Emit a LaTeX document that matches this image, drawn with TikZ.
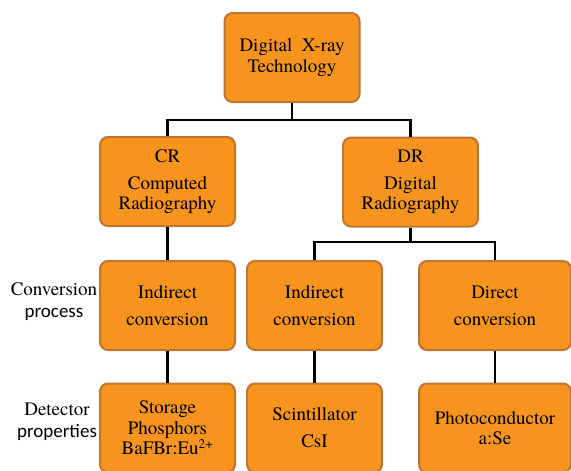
\documentclass[tikz,border=0pt]{standalone}
\usepackage{fontspec}
\setmainfont{texgyretermes}[Extension=.otf, UprightFont=*-regular, BoldFont=*-bold]
\newfontfamily\boxserif{texgyretermes}[Extension=.otf, UprightFont=*-regular]
\newfontfamily\labelsans{Carlito}
\definecolor{boxfill}{RGB}{247,148,30}
\definecolor{boxedge}{RGB}{190,117,50}
\tikzset{
  box/.style={draw=boxedge, fill=boxfill, line width=2pt, rounded corners=8pt,
    minimum width=135pt, minimum height=89pt, inner sep=0pt, align=center,
    font=\boxserif\fontsize{19}{20.5}\selectfont},
  wide/.style={minimum width=152pt},
  link/.style={draw=black, line width=2.6pt},
  sidelabel/.style={align=center, inner sep=0pt, font=\boxserif\fontsize{19}{22}\selectfont}
}
\begin{document}
\begin{tikzpicture}[x=1pt, y=-1pt]
  \useasboundingbox (0,0) rectangle (571,471);
  \clip (0,0) rectangle (571,471);

  % junction points of the tree links
  \coordinate (busA) at (292,120);
  \coordinate (busB) at (410.5,242);

  % boxes
  \node[box] (top) at (292,57.5) {Digital\ \ X-ray\\Technology};
  \node[box] (cr) at (167.5,181.5) {CR\\[6.5pt]Computed\\Radiography};
  \node[box] (dr) at (410.5,182) {DR\\[6.5pt]Digital\\Radiography};

  \node[box] (crind) at (167.5,305.5) {Indirect\\[6.5pt]conversion};
  \node[box] (drind) at (314.5,305.5) {Indirect\\[6.5pt]conversion};
  \node[box, wide] (drdir) at (495,305.5) {Direct\\[6.5pt]conversion};

  \node[box] (storage) at (167.5,428) {Storage\\Phosphors\\BaFBr:Eu\textsuperscript{2+}};
  \node[box] (scint) at (314.5,428) {Scintillator\\[6.5pt]CsI};
  \node[box, wide] (photo) at (495,428) {Photoconductor\\a:Se};

  % tree links
  \draw[link] (top.south) -- (busA);
  \draw[link] (cr.north) |- (busA) -| (dr.north);
  \draw[link] (dr.south) -- (busB);
  \draw[link] (drind.north) |- (busB) -| (drdir.north);
  \draw[link] (cr.south) -- (crind.north);
  \draw[link] (crind.south) -- (storage.north);
  \draw[link] (drind.south) -- (scint.north);
  \draw[link] (drdir.south) -- (photo.north);

  % row captions
  \node[sidelabel] (conv) at (54,302) {Conversion\\{\labelsans process}};
  \node[sidelabel] (det) at (57,422) {Detector\\{\labelsans properties}};
\end{tikzpicture}
\end{document}
